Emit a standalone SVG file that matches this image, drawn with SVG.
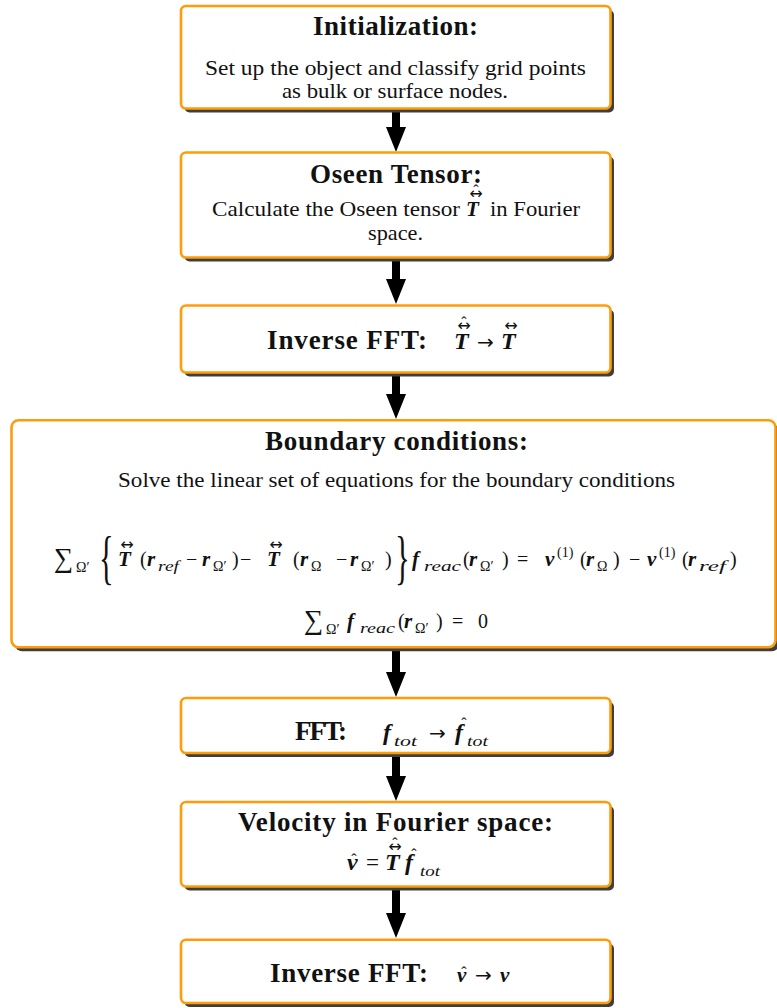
<svg xmlns="http://www.w3.org/2000/svg" width="777" height="1008" viewBox="0 0 777 1008">
<defs>
<style>
text{font-family:"Liberation Serif","DejaVu Serif",serif;fill:#111}
.box{fill:#fff;stroke:#FF9C0A;stroke-width:2.6}
.sh{fill:#3f3f3f}
.t{font-size:27px;font-weight:bold}
.b{font-size:21px}
.mb{font-style:italic;font-weight:bold;font-size:21px}
.mB{font-style:italic;font-weight:bold;font-size:24px}
.s{font-style:italic;font-size:15px}
.su{font-size:14px}
.r{font-size:20px}
.R{font-size:23px}
.ar{font-family:"DejaVu Sans",sans-serif;font-size:20px}
.acc{font-family:"DejaVu Sans",sans-serif;font-size:16px;text-anchor:middle}
.hat{font-size:16px;text-anchor:middle}
.arr{stroke:#000;stroke-width:8;fill:none}
</style>
<marker id="ah" viewBox="0 0 25 20" refX="2" refY="10" markerWidth="25" markerHeight="20" markerUnits="userSpaceOnUse" orient="auto">
<path d="M0,0 L25,10 L0,20 z" fill="#000"/>
</marker>
</defs>
<rect width="777" height="1008" fill="#fff"/>

<g id="connectors">
<line class="arr" x1="396" y1="110" x2="396" y2="129" marker-end="url(#ah)"/>
<line class="arr" x1="396" y1="258" x2="396" y2="281" marker-end="url(#ah)"/>
<line class="arr" x1="396" y1="372" x2="396" y2="396" marker-end="url(#ah)"/>
<line class="arr" x1="396" y1="648" x2="396" y2="674" marker-end="url(#ah)"/>
<line class="arr" x1="396" y1="754" x2="396" y2="778" marker-end="url(#ah)"/>
<line class="arr" x1="396" y1="887" x2="396" y2="915" marker-end="url(#ah)"/>
</g>

<g id="init">
<rect class="sh" x="184.5" y="10" width="429.5" height="102.5" rx="5"/>
<rect class="box" x="181" y="6" width="429.5" height="102.5" rx="5"/>
<text class="t" x="313" y="35" textLength="165">Initialization:</text>
<text class="b" x="205" y="75" textLength="381" lengthAdjust="spacingAndGlyphs">Set up the object and classify grid points</text>
<text class="b" x="282" y="98" textLength="226" lengthAdjust="spacingAndGlyphs">as bulk or surface nodes.</text>
</g>

<g id="oseen">
<rect class="sh" x="184.5" y="156.5" width="429.5" height="105" rx="5"/>
<rect class="box" x="181" y="152.5" width="429.5" height="105" rx="5"/>
<text class="t" x="310" y="183" textLength="172">Oseen Tensor:</text>
<text class="b" x="212" y="216" textLength="248" lengthAdjust="spacingAndGlyphs">Calculate the Oseen tensor</text>
<text class="mb" x="466" y="216">T</text>
<text class="acc" x="476" y="199">↔</text>
<text class="hat" x="476" y="196">ˆ</text>
<text class="b" x="490" y="216" textLength="90" lengthAdjust="spacingAndGlyphs">in Fourier</text>
<text class="b" x="368" y="240" textLength="55" lengthAdjust="spacingAndGlyphs">space.</text>
</g>

<g id="ifft1">
<rect class="sh" x="184.5" y="309.5" width="429.5" height="67" rx="5"/>
<rect class="box" x="181" y="305.5" width="429.5" height="67" rx="5"/>
<text class="t" x="267" y="349" textLength="160">Inverse FFT:</text>
<text class="mB" x="454" y="349">T</text>
<text class="acc" x="464" y="331">↔</text>
<text class="hat" x="464" y="328">ˆ</text>
<text class="ar" x="477" y="349">→</text>
<text class="mB" x="501" y="349">T</text>
<text class="acc" x="511" y="331">↔</text>
</g>

<g id="boundary">
<rect class="sh" x="15" y="424.3" width="764" height="227" rx="7"/>
<rect class="box" x="11.5" y="420.3" width="764" height="227" rx="7"/>
<text class="t" x="265" y="450" textLength="263">Boundary conditions:</text>
<text class="b" x="118" y="487" textLength="557" lengthAdjust="spacingAndGlyphs">Solve the linear set of equations for the boundary conditions</text>
<text x="54" y="567" font-size="27">∑</text>
<text class="su" x="76" y="572">Ω′</text>
<text transform="translate(99,577) scale(0.85,1.67)" font-size="36">{</text>
<text class="mb" x="118" y="566">T</text>
<text class="acc" x="127" y="550">↔</text>
<text class="r" x="140" y="566">(</text>
<text class="mb" x="147" y="566">r</text>
<text class="s" x="158" y="571" textLength="21" lengthAdjust="spacingAndGlyphs">ref</text>
<text class="r" x="186" y="566">−</text>
<text class="mb" x="202" y="566">r</text>
<text class="su" x="213" y="571">Ω′</text>
<text class="r" x="232" y="566">)</text>
<text class="r" x="240" y="566">−</text>
<text class="mb" x="267" y="566">T</text>
<text class="acc" x="276" y="550">↔</text>
<text class="r" x="293" y="566">(</text>
<text class="mb" x="300" y="566">r</text>
<text class="su" x="311" y="571">Ω</text>
<text class="r" x="336" y="566">−</text>
<text class="mb" x="350" y="566">r</text>
<text class="su" x="361" y="571">Ω′</text>
<text class="r" x="385" y="566">)</text>
<text transform="translate(395,577) scale(0.85,1.67)" font-size="36">}</text>
<text class="mb" x="412" y="566">f</text>
<text class="s" x="424" y="571" textLength="37" lengthAdjust="spacingAndGlyphs">reac</text>
<text class="r" x="463" y="566">(</text>
<text class="mb" x="469" y="566">r</text>
<text class="su" x="480" y="571">Ω′</text>
<text class="r" x="502" y="566">)</text>
<text class="r" x="517" y="566">=</text>
<text class="mb" x="545" y="566">v</text>
<text class="su" x="557" y="557">(1)</text>
<text class="r" x="580" y="566">(</text>
<text class="mb" x="586" y="566">r</text>
<text class="su" x="597" y="571">Ω</text>
<text class="r" x="613" y="566">)</text>
<text class="r" x="629" y="566">−</text>
<text class="mb" x="647" y="566">v</text>
<text class="su" x="659" y="557">(1)</text>
<text class="r" x="682" y="566">(</text>
<text class="mb" x="688" y="566">r</text>
<text class="s" x="699" y="571" textLength="27" lengthAdjust="spacingAndGlyphs">ref</text>
<text class="r" x="730" y="566">)</text>
<text x="304" y="629" font-size="27">∑</text>
<text class="su" x="326" y="634">Ω′</text>
<text class="mb" x="347" y="628">f</text>
<text class="s" x="360" y="633" textLength="35" lengthAdjust="spacingAndGlyphs">reac</text>
<text class="r" x="398" y="628">(</text>
<text class="mb" x="404" y="628">r</text>
<text class="su" x="415" y="633">Ω′</text>
<text class="r" x="436" y="628">)</text>
<text class="r" x="452" y="628">=</text>
<text class="r" x="478" y="628">0</text>
</g>

<g id="fft">
<rect class="sh" x="184.5" y="702" width="429.5" height="55" rx="5"/>
<rect class="box" x="181" y="698" width="429.5" height="55" rx="5"/>
<text class="t" x="295" y="740" textLength="52">FFT:</text>
<text class="mB" x="383" y="740">f</text>
<text class="s" x="394" y="746" font-size="16" textLength="23" lengthAdjust="spacingAndGlyphs">tot</text>
<text class="ar" x="429" y="740">→</text>
<text class="mB" x="455" y="740">f</text>
<text class="hat" x="464" y="729">ˆ</text>
<text class="s" x="467" y="746" font-size="16" textLength="21" lengthAdjust="spacingAndGlyphs">tot</text>
</g>

<g id="velocity">
<rect class="sh" x="184.5" y="806" width="429.5" height="84.5" rx="5"/>
<rect class="box" x="181" y="802" width="429.5" height="84.5" rx="5"/>
<text class="t" x="238" y="831" textLength="315">Velocity in Fourier space:</text>
<text class="mB" x="347" y="870">v</text>
<text class="hat" x="354" y="865">ˆ</text>
<text class="R" x="366" y="870">=</text>
<text class="mB" x="385" y="870">T</text>
<text class="acc" x="395" y="852">↔</text>
<text class="hat" x="395" y="849">ˆ</text>
<text class="mB" x="405" y="870">f</text>
<text class="hat" x="414" y="860">ˆ</text>
<text class="s" x="420" y="876" font-size="16" textLength="20" lengthAdjust="spacingAndGlyphs">tot</text>
</g>

<g id="ifft2">
<rect class="sh" x="184.5" y="943.7" width="429.5" height="63.3" rx="5"/>
<rect class="box" x="181" y="939.7" width="429.5" height="63.3" rx="5"/>
<text class="t" x="270" y="982" textLength="158">Inverse FFT:</text>
<text class="mb" x="457" y="982">v</text>
<text class="hat" x="464" y="978">ˆ</text>
<text class="ar" x="475" y="982">→</text>
<text class="mb" x="500" y="982">v</text>
</g>
</svg>
